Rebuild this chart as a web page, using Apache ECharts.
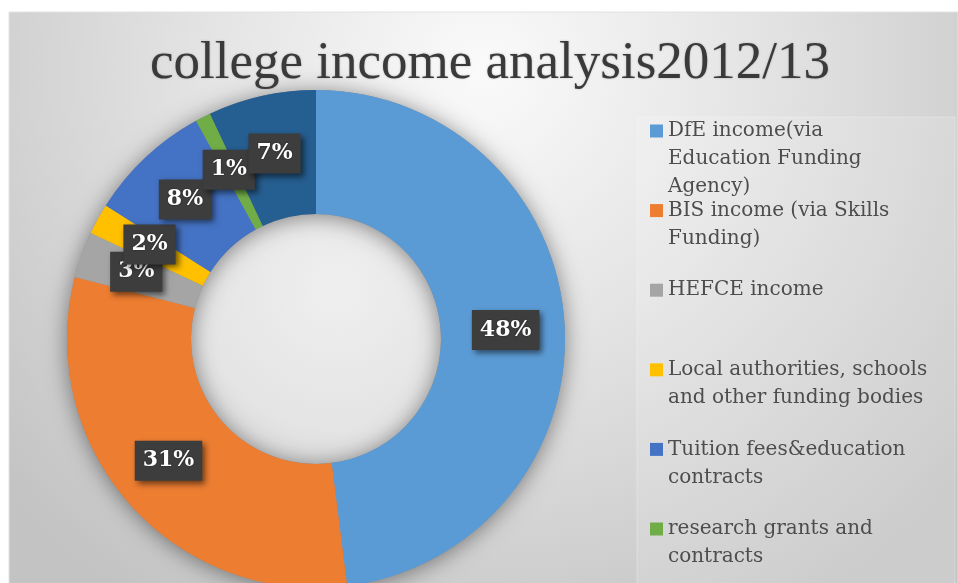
<!DOCTYPE html>
<html>
<head>
<meta charset="utf-8">
<title>college income analysis2012/13</title>
<script src="https://cdn.jsdelivr.net/npm/echarts@6/dist/echarts.min.js"></script>
<style>
  html, body { margin: 0; padding: 0; background: #ffffff; }
  #chart { width: 958px; height: 583px; }
</style>
</head>
<body>
<div id="chart"></div>
<script>
// ---- data ----
const chartTitle = 'college income analysis2012/13';
const categories = [
  'DfE income(via Education Funding Agency)',
  'BIS income (via Skills Funding)',
  'HEFCE income',
  'Local authorities, schools and other funding bodies',
  'Tuition fees&education contracts',
  'research grants and contracts',
  'other income'
];
const shares = [48, 31, 3, 2, 8, 1, 7];
const legendLines = [
  ['DfE income(via', 'Education Funding', 'Agency)'],
  ['BIS income (via Skills', 'Funding)'],
  ['HEFCE income'],
  ['Local authorities, schools', 'and other funding bodies'],
  ['Tuition fees&education', 'contracts'],
  ['research grants and', 'contracts'],
  ['other income']
];
const palette = ['#5B9BD5', '#ED7D31', '#A5A5A5', '#FFC000', '#4472C4', '#70AD47', '#255E91'];

// ---- layout ----
const CX = 316, CY = 339, R_OUT = 249, R_IN = 125;
const labelNudge = [[0, 3], [-5, -4], [-1, -3], [0, -3], [-1, -1], [-1, 0], [0, 0]];
const legendFirstRow = 130, legendRowStep = 79.6;

const chart = echarts.init(document.getElementById('chart'), null, { renderer: 'canvas' });

const legendText = {
  fontFamily: 'DejaVu Serif',
  fontSize: 20,
  lineHeight: 28,
  color: '#4d4d4d'
};

const legends = categories.map((name, i) => ({
  orient: 'vertical',
  left: 650,
  top: legendFirstRow + legendRowStep * i - 9,
  padding: 0,
  data: [name],
  icon: 'rect',
  itemWidth: 13,
  itemHeight: 13,
  itemGap: 0,
  formatter: n => legendLines[categories.indexOf(n)].map(l => '{t|' + l + '}').join('\n'),
  textStyle: {
    height: 28,
    padding: [0, 0, 0, 0],
    rich: { t: legendText }
  }
}));

const option = {
  backgroundColor: '#ffffff',
  color: palette,
  animation: false,
  title: {
    text: chartTitle,
    left: 490,
    top: 38,
    padding: 0,
    textAlign: 'center',
    textStyle: {
      fontFamily: 'Liberation Serif',
      fontSize: 53,
      fontWeight: 'normal',
      color: '#3a3a3a',
      textShadowColor: 'rgba(0,0,0,0.25)',
      textShadowBlur: 2
    }
  },
  legend: legends,
  graphic: [
    {
      type: 'rect', z: -20, silent: true,
      shape: { x: 9, y: 12, width: 949, height: 575 },
      style: {
        fill: {
          type: 'radial', x: 0.5, y: 0.1, r: 1.1,
          colorStops: [
            { offset: 0, color: '#fafafa' },
            { offset: 0.45, color: '#e3e3e3' },
            { offset: 1, color: '#c3c3c3' }
          ]
        },
        stroke: '#e2e2e2', lineWidth: 1
      }
    },
    {
      type: 'rect', z: -19, silent: true,
      shape: { x: 637, y: 117, width: 318, height: 480 },
      style: { fill: 'rgba(255,255,255,0.15)', stroke: 'rgba(255,255,255,0.3)', lineWidth: 1 }
    },
    {
      type: 'circle', z: -18, silent: true,
      shape: { cx: CX, cy: CY, r: R_IN + 2 },
      style: {
        fill: {
          type: 'radial', x: 0.58, y: 0.3, r: 0.8,
          colorStops: [
            { offset: 0, color: '#efefef' },
            { offset: 0.7, color: '#e4e4e4' },
            { offset: 1, color: '#d6d6d6' }
          ]
        }
      }
    },
    {
      // soft shadow under the doughnut ring
      type: 'ring', z: -17, silent: true,
      shape: { cx: CX, cy: CY, r: R_OUT, r0: R_IN },
      style: {
        fill: '#8a8a8a',
        shadowColor: 'rgba(0,0,0,0.45)',
        shadowBlur: 22,
        shadowOffsetX: 0,
        shadowOffsetY: 2
      }
    }
  ],
  series: [{
    type: 'pie',
    center: [CX, CY],
    radius: [R_IN, R_OUT],
    startAngle: 90,
    clockwise: true,
    avoidLabelOverlap: false,
    labelLayout: { hideOverlap: false },
    emphasis: { scale: false },
    itemStyle: { borderWidth: 0 },
    labelLine: { show: false },
    label: {
      show: true,
      position: 'inside',
      formatter: p => p.value + '%',
      color: '#ffffff',
      fontFamily: 'DejaVu Serif',
      fontWeight: 'bold',
      fontSize: 22,
      lineHeight: 24,
      backgroundColor: '#3d3d3d',
      padding: [8, 8, 8, 8],
      shadowColor: 'rgba(0,0,0,0.55)',
      shadowBlur: 6,
      shadowOffsetX: 3,
      shadowOffsetY: 3,
      textShadowColor: 'rgba(0,0,0,0.5)',
      textShadowBlur: 2
    },
    data: categories.map((name, i) => ({
      name,
      value: shares[i],
      label: { offset: labelNudge[i] }
    }))
  }]
};

chart.setOption(option);
</script>
</body>
</html>
